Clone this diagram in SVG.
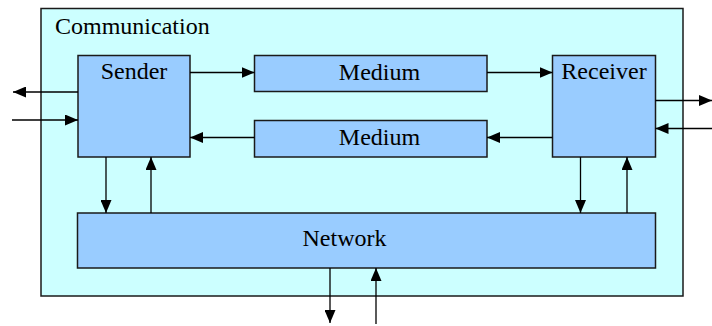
<svg xmlns="http://www.w3.org/2000/svg" width="712" height="326" viewBox="0 0 712 326">
<style>
.box{fill:#99CCFF;stroke:#1a1a1a;stroke-width:1.5}
.outer{fill:#CCFFFF;stroke:#1a1a1a;stroke-width:1.5}
text{font-family:'Liberation Serif','Times New Roman',Times,serif;font-size:24px;fill:#000}
.c{stroke:#000;stroke-width:1.3;fill:none;marker-end:url(#ah)}
</style>
<defs>
<marker id="ah" markerUnits="userSpaceOnUse" markerWidth="13" markerHeight="11" refX="13" refY="5.5" orient="auto">
<path d="M0,0 L13,5.5 L0,11 Z" fill="#000"/>
</marker>
</defs>
<g id="communication">
<rect class="outer" x="41" y="8.5" width="642" height="287.5"/>
<text x="55" y="34" font-family="Liberation Serif, serif">Communication</text>
</g>
<g id="sender">
<rect class="box" x="78" y="55.5" width="112" height="101.5"/>
<text x="134" y="79" text-anchor="middle" font-family="Liberation Serif, serif">Sender</text>
</g>
<g id="medium1">
<rect class="box" x="254.5" y="55.5" width="232.5" height="36"/>
<text x="379.5" y="80" text-anchor="middle" font-family="Liberation Serif, serif">Medium</text>
</g>
<g id="medium2">
<rect class="box" x="254.5" y="120.5" width="232.5" height="36.5"/>
<text x="379.5" y="145" text-anchor="middle" font-family="Liberation Serif, serif">Medium</text>
</g>
<g id="receiver">
<rect class="box" x="552.5" y="55.5" width="103" height="101.5"/>
<text x="604" y="79" text-anchor="middle" font-family="Liberation Serif, serif">Receiver</text>
</g>
<g id="network">
<rect class="box" x="77.5" y="213" width="578" height="55"/>
<text x="344.5" y="246" text-anchor="middle" font-family="Liberation Serif, serif">Network</text>
</g>
<g id="connectors">
<line class="c" x1="190" y1="72.5" x2="254.5" y2="72.5"/>
<line class="c" x1="487" y1="72.5" x2="552.5" y2="72.5"/>
<line class="c" x1="552.5" y1="137.5" x2="487" y2="137.5"/>
<line class="c" x1="254.5" y1="137.5" x2="190" y2="137.5"/>
<line class="c" x1="78" y1="92" x2="13" y2="92"/>
<line class="c" x1="12" y1="120" x2="78" y2="120"/>
<line class="c" x1="655.5" y1="100.5" x2="712" y2="100.5"/>
<line class="c" x1="712" y1="128.5" x2="655.5" y2="128.5"/>
<line class="c" x1="106" y1="157" x2="106" y2="213"/>
<line class="c" x1="151" y1="213" x2="151" y2="157"/>
<line class="c" x1="580.5" y1="157" x2="580.5" y2="213"/>
<line class="c" x1="627" y1="213" x2="627" y2="157"/>
<line class="c" x1="330" y1="268" x2="330" y2="323"/>
<line class="c" x1="376" y1="324" x2="376" y2="268"/>
</g>
</svg>
